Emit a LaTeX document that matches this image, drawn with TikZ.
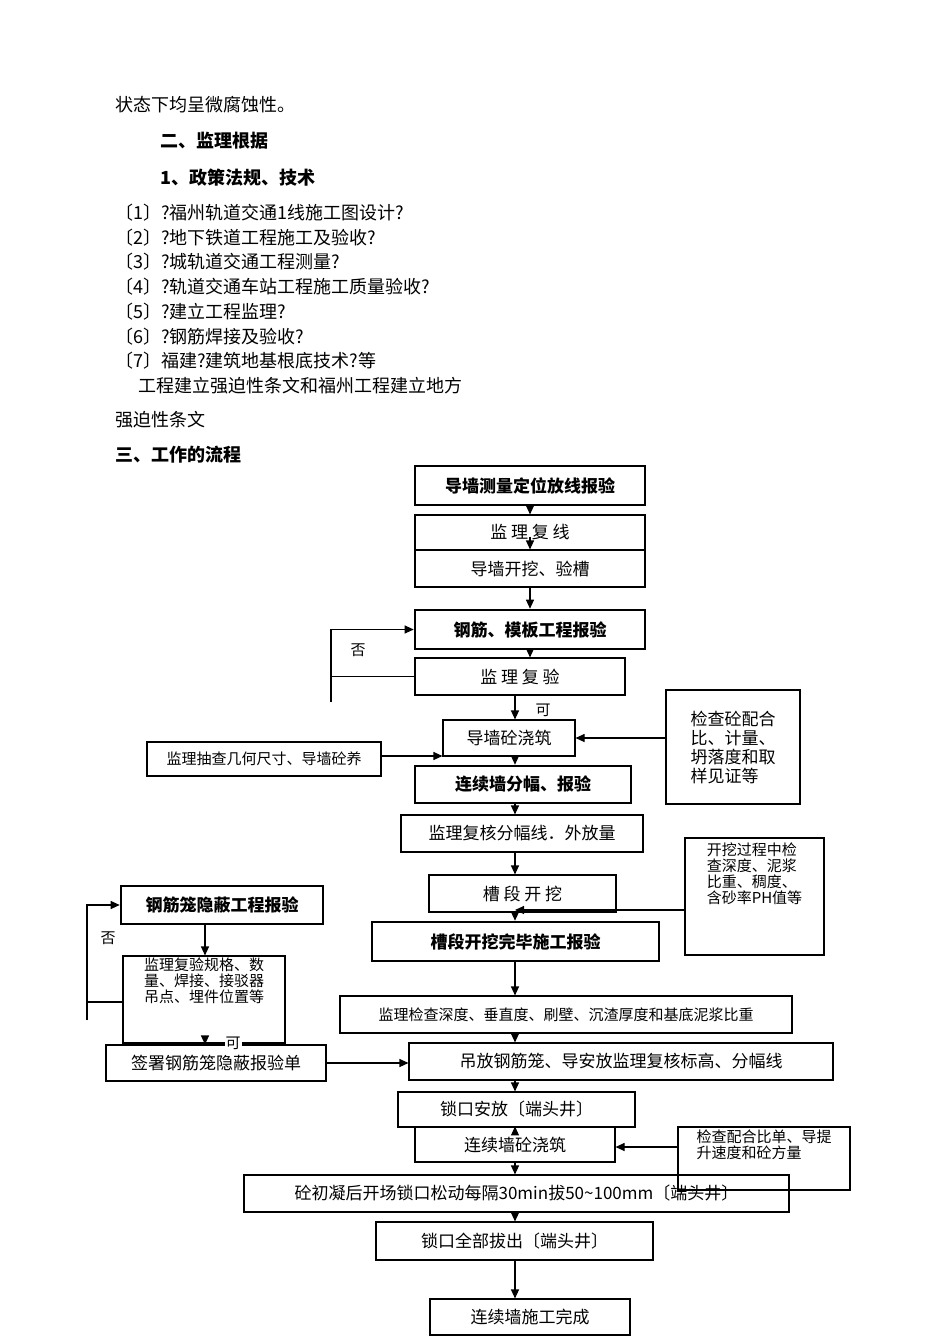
\documentclass[tikz,border=0pt]{standalone}
\usepackage{fontspec}
\setmainfont{Noto Sans CJK SC}
\usetikzlibrary{arrows.meta,calc,positioning}
\tikzset{
  box/.style={draw,line width=1.1pt,inner sep=0pt,font=\fontsize{17pt}{20pt}\selectfont},
  hbox/.style={box,line width=2.6pt,font=\fontsize{17pt}{20pt}\selectfont\bfseries},
  nbox/.style={box,font=\fontsize{15pt}{16pt}\selectfont,align=left},
  arr/.style={-{Triangle[length=9pt,width=8pt]},line width=1.1pt},
  ln/.style={line width=1.1pt},
  txt/.style={anchor=west,inner sep=0pt,font=\fontsize{18pt}{20pt}\selectfont}
}
\begin{document}
\begin{tikzpicture}[x=1pt,y=-1pt]
\useasboundingbox (0,0) rectangle (950,1344);
% text above the chart
\node[txt] (t1) at (115,105) {状态下均呈微腐蚀性。};
\node[txt,font=\fontsize{18pt}{20pt}\selectfont\bfseries] (t2) at (160,141) {二、监理根据};
\node[txt,font=\fontsize{18pt}{20pt}\selectfont\bfseries] (t3) at (160,178) {1、政策法规、技术};
\node[txt] (l1) at (115,213) {〔1〕?福州轨道交通1线施工图设计?};
\node[txt] (l2) at (115,238) {〔2〕?地下铁道工程施工及验收?};
\node[txt] (l3) at (115,262) {〔3〕?城轨道交通工程测量?};
\node[txt] (l4) at (115,287) {〔4〕?轨道交通车站工程施工质量验收?};
\node[txt] (l5) at (115,312) {〔5〕?建立工程监理?};
\node[txt] (l6) at (115,337) {〔6〕?钢筋焊接及验收?};
\node[txt] (l7) at (115,361) {〔7〕福建?建筑地基根底技术?等};
\node[txt] (l8) at (138,386) {工程建立强迫性条文和福州工程建立地方};
\node[txt] (l9) at (115,420) {强迫性条文};
\node[txt,font=\fontsize{18pt}{20pt}\selectfont\bfseries] (t4) at (115,455) {三、工作的流程};
% chart boxes
\node[hbox,minimum width=230,minimum height=39] (b1) at (530,485.5) {导墙测量定位放线报验};
\node[box,minimum width=230,minimum height=35] (b2) at (530,532.5) {监 理 复 线};
\node[box,minimum width=230,minimum height=37] (b3) at (530,568.5) {导墙开挖、验槽};
\node[hbox,minimum width=230,minimum height=39] (b4) at (530,629.5) {钢筋、模板工程报验};
\node[box,minimum width=210,minimum height=37] (b5) at (520,676.5) {监 理 复 验};
\node[box,minimum width=132,minimum height=36] (b6) at (509,738) {导墙砼浇筑};
\node[nbox,minimum width=134,minimum height=114,font=\fontsize{17pt}{19pt}\selectfont] (b7) at (733,747) {检查砼配合\\比、计量、\\坍落度和取\\样见证等};
\node[box,minimum width=234,minimum height=34,font=\fontsize{15pt}{18pt}\selectfont] (b8) at (264,759) {监理抽查几何尺寸、导墙砼养};
\node[hbox,minimum width=216,minimum height=37] (b9) at (523,784.5) {连续墙分幅、报验};
\node[box,minimum width=242,minimum height=37] (b10) at (522,833.5) {监理复核分幅线．外放量};
\node[nbox,minimum width=139,minimum height=117] (b11) at (754.5,896.5) {开挖过程中检\\查深度、泥浆\\比重、稠度、\\含砂率PH值等\\[30pt]};
\node[box,minimum width=187,minimum height=37] (b12) at (522.5,893.5) {槽 段 开 挖};
\node[hbox,minimum width=287,minimum height=39] (b13) at (515.5,941.5) {槽段开挖完毕施工报验};
\node[hbox,minimum width=202,minimum height=38] (b14) at (222,905) {钢筋笼隐蔽工程报验};
\node[nbox,minimum width=162,minimum height=87] (b15) at (204,999.5) {监理复验规格、数\\量、焊接、接驳器\\吊点、埋件位置等\\[22pt]};
\node[box,minimum width=452,minimum height=37,font=\fontsize{15pt}{18pt}\selectfont] (b16) at (566,1014.5) {监理检查深度、垂直度、刷壁、沉渣厚度和基底泥浆比重};
\node[box,minimum width=220,minimum height=36] (b17) at (216,1063) {签署钢筋笼隐蔽报验单};
\node[box,minimum width=424,minimum height=37] (b18) at (621,1061.5) {吊放钢筋笼、导安放监理复核标高、分幅线};
\node[box,minimum width=237,minimum height=35] (b19) at (516.5,1109.5) {锁口安放〔端头井〕};
\node[box,minimum width=200,minimum height=35] (b20) at (515,1144.5) {连续墙砼浇筑};
\node[nbox,minimum width=172,minimum height=63] (b21) at (764,1158.5) {检查配合比单、导提\\升速度和砼方量\\[12pt]};
\node[box,minimum width=545,minimum height=37] (b22) at (516.5,1193.5) {砼初凝后开场锁口松动每隔30min拔50\textasciitilde100mm〔端头井〕};
\node[box,minimum width=277,minimum height=38] (b23) at (514.5,1241) {锁口全部拔出〔端头井〕};
\node[box,minimum width=200,minimum height=36] (b24) at (530,1317) {连续墙施工完成};
% main column
\draw[arr] (b1.south) -- (b2.north);
\draw[arr] ($(b2.south)+(0,-14)$) -- (b3.north);
\draw[arr] (b3.south) -- (b4.north);
\draw[arr] (b4.south) -- (b4.south |- b5.north);
\draw[arr] (b5.south -| 515,0) -- (b6.north -| 515,0);
\draw[arr] (b6.south -| 515,0) -- (b9.north -| 515,0);
\draw[arr] (b9.south -| 515,0) -- (b10.north -| 515,0);
\draw[arr] (b10.south -| 515,0) -- (b12.north -| 515,0);
\draw[arr] (b12.south -| 515,0) -- (b13.north -| 515,0);
\draw[arr] (b13.south -| 515,0) -- (b16.north -| 515,0);
\draw[arr] (b16.south -| 515,0) -- (b18.north -| 515,0);
\draw[arr] (b18.south -| 515,0) -- (b19.north -| 515,0);
\draw[arr] (b19.south -| 515,0) -- (b20.north -| 515,0);
\draw[arr] (b20.south -| 515,0) -- (b22.north -| 515,0);
\draw[arr] (b22.south -| 515,0) -- (b23.north -| 515,0);
\draw[arr] (b23.south -| 515,0) -- (b24.north -| 515,0);
% side links
\coordinate (f1) at (331,702);
\draw[ln] (b5.west) -- (b5.west -| f1);
\draw[arr] (f1) -- (f1 |- b4.west) -- (b4.west);
\node[font=\fontsize{15pt}{18pt}\selectfont] (no1) at (358,650) {否};
\node[font=\fontsize{15pt}{18pt}\selectfont] (ok1) at (543,710) {可};
\draw[arr] (b8.east |- 0,756) -- (b6.west |- 0,756);
\draw[arr] (b7.west |- 0,738) -- (b6.east);
\draw[arr] (b11.west |- 0,910) -- (515,910);
\coordinate (f2) at (87,1020);
\draw[ln] (b15.west |- 0,1002) -- (f2 |- 0,1002);
\draw[arr] (f2) -- (f2 |- b14.west) -- (b14.west);
\node[font=\fontsize{15pt}{18pt}\selectfont] (no2) at (108,938) {否};
\node[font=\fontsize{15pt}{18pt}\selectfont,fill=white,inner sep=1pt] (ok2) at (233,1043) {可};
\draw[arr] (b14.south -| 205,0) -- (b15.north -| 205,0);
\draw[arr] (b15.south -| 205,0) -- (b17.north -| 205,0);
\draw[arr] (b17.east) -- (b18.west |- b17.east);
\draw[arr] (b21.west |- 0,1147) -- (b20.east |- 0,1147);
\end{tikzpicture}
\end{document}
